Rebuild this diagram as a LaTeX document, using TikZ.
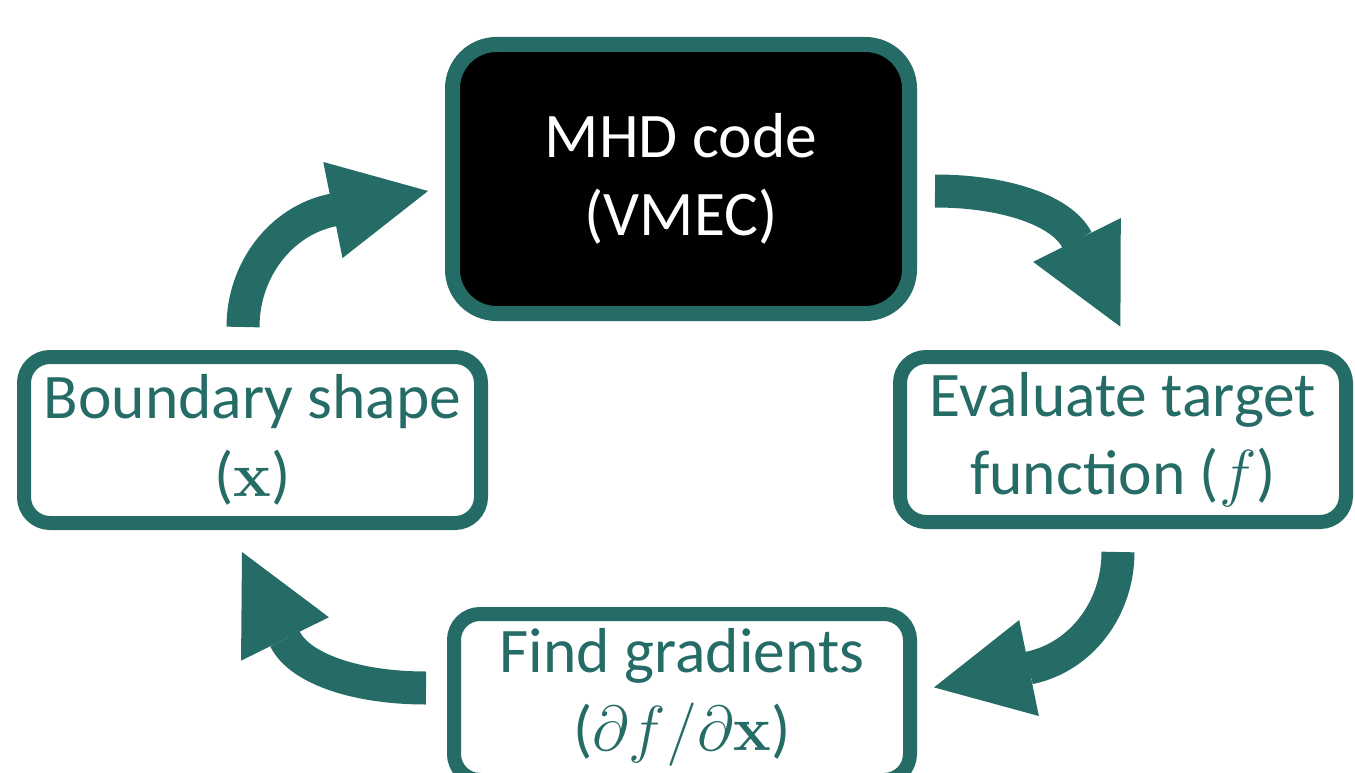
\RequirePackage{fix-cm}
\documentclass[tikz,border=0pt]{standalone}
\usepackage[no-math]{fontspec}
\setmainfont{Carlito}
\usetikzlibrary{arrows.meta}
\definecolor{tealc}{RGB}{38,108,102}
\begin{document}
\begin{tikzpicture}[x=1pt,y=-1pt,
  box/.style={draw=tealc, line width=14pt, rounded corners=26pt, fill=white,
    text=tealc, align=center, font=\fontsize{63.5}{78}\selectfont, inner sep=0pt},
  flow/.style={draw=tealc, line width=33pt,
    -{Triangle[length=97pt,width=98pt,line width=0pt]}}
]
\useasboundingbox (0,0) rectangle (1355,773);
% boxes
\node[box, line width=15pt, fill=black, text=white, rounded corners=44pt,
  minimum width=457pt, minimum height=269pt] (mhd) at (681,179) {MHD code\\(VMEC)};
\node[box, minimum width=457pt, minimum height=166pt] (bnd) at (252.5,440)
  {Boundary shape\\($\mathbf{x}$)};
\node[box, minimum width=446pt, minimum height=165pt] (eval) at (1123,439.5)
  {Evaluate target\\function ($f$)};
\node[box, minimum width=456pt, minimum height=166pt] (grad) at (682,697)
  {Find gradients\\($\partial f/\partial\mathbf{x}$)};
% arrow coordinates
\coordinate (a1s) at (243,327);
\coordinate (a1c) at (243,270);
\coordinate (a1d) at (281,220.4);
\coordinate (a1e) at (333,210);
\coordinate (a1t) at (428,191);
\coordinate (a2s) at (935,191);
\coordinate (a2c) at (1005,191);
\coordinate (a2d) at (1062,210.5);
\coordinate (a2e) at (1077,240);
\coordinate (a2t) at (1120.4,326.7);
\coordinate (a3s) at (1118,552);
\coordinate (a3c) at (1118,609);
\coordinate (a3d) at (1080.6,657.5);
\coordinate (a3e) at (1029,668);
\coordinate (a3t) at (934,687.4);
\coordinate (a4s) at (426,688);
\coordinate (a4c) at (356,688);
\coordinate (a4d) at (299.6,668.6);
\coordinate (a4e) at (285,639);
\coordinate (a4t) at (242,552);
% arrows
\draw[flow] (a1s) .. controls (a1c) and (a1d) .. (a1e) -- (a1t);
\draw[flow] (a2s) .. controls (a2c) and (a2d) .. (a2e) -- (a2t);
\draw[flow] (a3s) .. controls (a3c) and (a3d) .. (a3e) -- (a3t);
\draw[flow] (a4s) .. controls (a4c) and (a4d) .. (a4e) -- (a4t);
\end{tikzpicture}
\end{document}
